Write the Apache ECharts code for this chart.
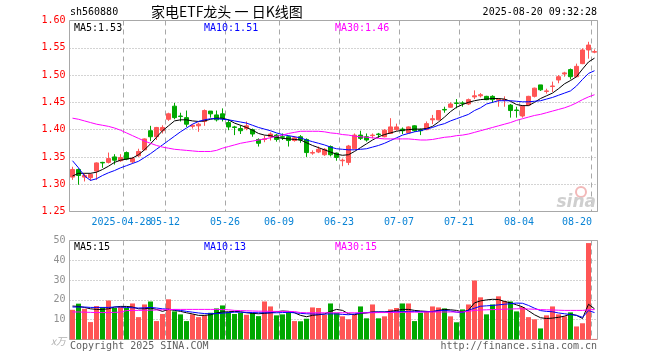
<!DOCTYPE html>
<html><head><meta charset="utf-8">
<script src="https://cdn.jsdelivr.net/npm/echarts@6/dist/echarts.min.js"></script>
<style>html,body{margin:0;padding:0;background:#fff}#c{width:660px;height:360px}</style>
</head><body><div id="c"></div>
<script>
const dates = [
'2025-04-15','2025-04-16','2025-04-17','2025-04-18','2025-04-21','2025-04-22','2025-04-23','2025-04-24','2025-04-25','2025-04-28',
'2025-04-29','2025-04-30','2025-05-06','2025-05-07','2025-05-08','2025-05-09','2025-05-12','2025-05-13','2025-05-14','2025-05-15',
'2025-05-16','2025-05-19','2025-05-20','2025-05-21','2025-05-22','2025-05-23','2025-05-26','2025-05-27','2025-05-28','2025-05-29',
'2025-05-30','2025-06-03','2025-06-04','2025-06-05','2025-06-06','2025-06-09','2025-06-10','2025-06-11','2025-06-12','2025-06-13',
'2025-06-16','2025-06-17','2025-06-18','2025-06-19','2025-06-20','2025-06-23','2025-06-24','2025-06-25','2025-06-26','2025-06-27',
'2025-06-30','2025-07-01','2025-07-02','2025-07-03','2025-07-04','2025-07-07','2025-07-08','2025-07-09','2025-07-10','2025-07-11',
'2025-07-14','2025-07-15','2025-07-16','2025-07-17','2025-07-18','2025-07-21','2025-07-22','2025-07-23','2025-07-24','2025-07-25',
'2025-07-28','2025-07-29','2025-07-30','2025-07-31','2025-08-01','2025-08-04','2025-08-05','2025-08-06','2025-08-07','2025-08-08',
'2025-08-11','2025-08-12','2025-08-13','2025-08-14','2025-08-15','2025-08-18','2025-08-19','2025-08-20'];

const opens = [1.313,1.327,1.313,1.312,1.324,1.340,1.340,1.350,1.343,1.358,
1.341,1.352,1.363,1.398,1.387,1.398,1.419,1.443,1.425,1.422,
1.406,1.407,1.415,1.434,1.427,1.429,1.413,1.405,1.402,1.402,
1.400,1.382,1.382,1.387,1.390,1.387,1.387,1.380,1.387,1.382,
1.357,1.359,1.354,1.369,1.357,1.343,1.340,1.365,1.390,1.387,
1.389,1.392,1.387,1.393,1.400,1.401,1.394,1.407,1.400,1.400,
1.418,1.418,1.437,1.441,1.449,1.449,1.447,1.460,1.462,1.461,
1.461,1.454,1.454,1.445,1.436,1.425,1.445,1.461,1.482,1.470,
1.479,1.491,1.502,1.510,1.497,1.521,1.546,1.542];

const closes = [1.327,1.316,1.316,1.318,1.339,1.339,1.347,1.344,1.349,1.346,
1.347,1.360,1.383,1.387,1.404,1.404,1.429,1.422,1.424,1.410,
1.408,1.410,1.435,1.429,1.418,1.421,1.405,1.404,1.398,1.407,
1.392,1.375,1.383,1.392,1.382,1.386,1.380,1.385,1.381,1.358,
1.358,1.364,1.364,1.354,1.349,1.344,1.370,1.390,1.384,1.381,
1.390,1.391,1.399,1.405,1.405,1.398,1.405,1.398,1.398,1.411,
1.420,1.435,1.436,1.447,1.448,1.448,1.455,1.462,1.464,1.455,
1.455,1.456,1.455,1.435,1.435,1.443,1.461,1.476,1.473,1.471,
1.480,1.497,1.504,1.497,1.516,1.546,1.555,1.543];

const lows = [1.308,1.299,1.305,1.306,1.308,1.330,1.338,1.336,1.341,1.344,
1.338,1.350,1.362,1.379,1.381,1.393,1.416,1.419,1.415,1.405,
1.402,1.396,1.407,1.422,1.415,1.415,1.399,1.390,1.392,1.399,
1.387,1.369,1.377,1.380,1.378,1.381,1.369,1.378,1.376,1.350,
1.354,1.357,1.352,1.351,1.343,1.333,1.335,1.364,1.381,1.378,
1.384,1.385,1.386,1.392,1.398,1.392,1.393,1.396,1.390,1.399,
1.410,1.417,1.431,1.440,1.439,1.442,1.445,1.456,1.459,1.454,
1.449,1.442,1.442,1.422,1.422,1.422,1.444,1.459,1.471,1.466,
1.469,1.485,1.497,1.492,1.496,1.520,1.530,1.540];

const highs = [1.332,1.329,1.320,1.320,1.340,1.341,1.358,1.355,1.355,1.360,
1.350,1.365,1.384,1.407,1.405,1.408,1.431,1.449,1.431,1.435,
1.410,1.413,1.437,1.434,1.435,1.439,1.418,1.407,1.408,1.415,
1.402,1.384,1.389,1.395,1.392,1.393,1.389,1.388,1.390,1.384,
1.362,1.369,1.366,1.371,1.358,1.347,1.372,1.393,1.398,1.393,
1.393,1.394,1.401,1.421,1.411,1.404,1.406,1.408,1.402,1.415,
1.427,1.436,1.442,1.450,1.456,1.452,1.457,1.472,1.467,1.462,
1.463,1.458,1.461,1.447,1.442,1.445,1.462,1.477,1.482,1.475,
1.488,1.500,1.506,1.512,1.521,1.549,1.561,1.547];

const ma5 = [1.315,1.320,1.320,1.320,1.322,1.327,1.333,1.340,1.344,1.346,
1.348,1.354,1.363,1.374,1.386,1.398,1.407,1.416,1.418,1.418,
1.416,1.415,1.416,1.419,1.421,1.421,1.418,1.412,1.408,1.404,
1.399,1.393,1.390,1.389,1.386,1.384,1.383,1.382,1.381,1.376,
1.371,1.367,1.363,1.359,1.355,1.353,1.354,1.360,1.367,1.374,
1.381,1.387,1.391,1.394,1.397,1.399,1.400,1.401,1.401,1.402,
1.406,1.414,1.423,1.433,1.441,1.446,1.450,1.453,1.455,1.456,
1.457,1.457,1.456,1.452,1.446,1.444,1.444,1.450,1.457,1.462,
1.467,1.475,1.484,1.490,1.497,1.511,1.524,1.531];

const ma10 = [1.343,1.330,1.315,1.307,1.310,1.316,1.321,1.325,1.330,1.334,
1.338,1.342,1.349,1.356,1.364,1.372,1.380,1.388,1.396,1.403,
1.410,1.415,1.418,1.420,1.420,1.419,1.418,1.416,1.414,1.412,
1.408,1.404,1.401,1.398,1.394,1.391,1.389,1.387,1.385,1.381,
1.378,1.375,1.372,1.368,1.365,1.364,1.363,1.363,1.364,1.365,
1.368,1.371,1.375,1.380,1.385,1.390,1.393,1.396,1.398,1.401,
1.404,1.408,1.411,1.416,1.420,1.424,1.428,1.435,1.440,1.447,
1.450,1.453,1.453,1.453,1.452,1.451,1.451,1.452,1.453,1.456,
1.459,1.463,1.467,1.471,1.480,1.492,1.503,1.508];

const ma30 = [1.421,1.419,1.416,1.413,1.410,1.408,1.406,1.403,1.399,1.394,
1.389,1.384,1.379,1.375,1.371,1.368,1.366,1.364,1.363,1.362,
1.361,1.360,1.360,1.360,1.362,1.366,1.369,1.372,1.375,1.377,
1.379,1.381,1.383,1.385,1.388,1.390,1.393,1.395,1.397,1.397,
1.397,1.397,1.396,1.394,1.393,1.391,1.390,1.388,1.387,1.386,
1.385,1.384,1.383,1.383,1.383,1.383,1.383,1.382,1.381,1.381,
1.382,1.384,1.386,1.387,1.389,1.390,1.392,1.395,1.398,1.401,
1.404,1.407,1.410,1.413,1.417,1.420,1.423,1.426,1.428,1.431,
1.434,1.437,1.440,1.444,1.449,1.455,1.460,1.464];

const volumes = [15.0,18.1,15.5,8.8,16.9,16.4,19.7,15.9,16.6,15.9,
18.2,11.3,17.7,19.2,9.3,12.9,20.3,14.2,12.7,9.3,
12.7,11.3,12.2,13.5,15.7,17.2,13.9,12.9,13.5,12.5,
13.5,11.8,19.2,16.7,12.2,12.7,13.9,9.3,9.2,10.5,
16.2,15.9,12.5,18.2,13.5,11.7,10.2,12.7,16.7,10.7,
17.7,10.7,11.7,15.2,15.9,18.2,18.2,9.3,13.5,14.2,
16.7,16.2,15.7,11.7,8.7,15.2,17.7,29.8,21.3,12.7,
17.7,21.8,19.4,19.2,14.2,16.4,11.3,10.2,5.6,12.2,
16.7,12.7,11.7,13.7,6.6,8.2,48.7,0.3];

const volMa5 = [16.9,16.7,16.2,15.5,15.2,15.2,15.5,16.4,16.7,16.7,
16.4,15.5,15.5,15.9,15.2,14.2,15.2,14.7,14.2,13.5,
12.9,12.2,12.2,12.5,13.4,13.9,14.0,14.2,14.0,13.5,
13.2,13.0,13.2,13.5,14.0,14.4,14.2,13.5,12.2,11.5,
12.2,12.5,12.9,14.2,15.2,14.7,13.0,12.5,13.2,13.4,
13.9,13.9,13.9,14.2,14.7,15.2,15.2,14.7,14.4,14.2,
14.0,14.7,15.2,15.0,14.7,13.9,14.8,18.5,19.5,20.0,
20.3,20.2,19.2,18.5,17.5,16.5,14.5,12.5,11.0,10.6,
10.8,11.2,11.8,12.8,12.2,10.6,17.8,15.5];

const volMa10 = [16.4,16.4,16.4,16.2,16.2,16.2,16.2,16.4,16.4,16.2,
16.0,15.9,16.0,16.2,15.9,15.5,15.3,15.0,14.7,14.2,
13.8,13.4,13.1,13.0,13.1,13.3,13.6,13.8,13.8,13.7,
13.6,13.5,13.5,13.5,13.5,13.6,13.7,13.5,13.2,13.0,
12.9,12.8,12.8,13.0,12.9,12.7,12.5,12.9,13.4,13.6,
13.8,13.9,13.9,13.9,14.0,14.1,14.2,14.2,14.1,14.0,
14.2,14.5,14.7,14.4,13.8,13.6,14.8,15.8,16.8,17.0,
17.2,17.5,17.8,18.1,18.4,18.3,17.2,15.8,14.6,14.2,
14.0,13.4,13.0,12.6,12.2,11.2,14.6,13.6];

const volMa30 = [13.9,13.9,13.8,13.7,13.6,13.6,13.6,13.7,13.8,14.6,
14.7,14.7,14.8,14.8,14.9,15.0,15.1,15.2,15.2,15.2,
15.2,15.2,15.2,15.2,15.2,15.1,15.0,14.7,14.6,14.5,
14.4,14.3,14.3,14.2,14.2,14.2,14.2,14.1,13.6,13.5,
13.5,13.5,13.5,13.5,13.5,13.5,13.5,13.5,13.5,13.5,
13.5,13.6,13.6,13.6,13.7,13.7,13.8,13.8,13.8,13.9,
13.9,13.9,13.9,13.9,13.9,13.9,14.2,14.7,14.9,15.0,
15.1,15.2,15.3,15.4,15.5,15.5,15.4,15.3,15.1,15.0,
14.9,14.8,14.7,14.7,14.7,14.7,15.0,15.1];

const labelDates = ['2025-04-28','2025-05-12','2025-05-26','2025-06-09','2025-06-23','2025-07-07','2025-07-21','2025-08-04','2025-08-20'];
const legendMain = ['MA5:1.53','MA10:1.51','MA30:1.46'];
const legendVol = ['MA5:15','MA10:13','MA30:15'];
const priceTicks = {min:1.25, max:1.60, step:0.05};
const volTicks = {min:0, max:50, step:10};

const MONO = '"DejaVu Sans Mono", "Liberation Mono", monospace';
const RED = '#ff5555', GREEN = '#00a800';
const GRIDC = '#a8a8a8';
const LBLC = '#0a84d6';
const marks = new Set(labelDates);
const isMark = (i, v) => marks.has(v);

const kData = dates.map((d, i) => [opens[i], closes[i], lows[i], highs[i]]);
const vData = volumes.map((v, i) => ({value: v, itemStyle: {color: closes[i] >= opens[i] ? RED : GREEN}}));

const chart = echarts.init(document.getElementById('c'), null, {renderer: 'canvas'});

const xBase = (gi) => ({
  type: 'category', gridIndex: gi, data: dates, boundaryGap: true, position: 'bottom',
  axisLine: {show: false}, axisTick: {show: false},
  splitLine: {show: true, interval: isMark, lineStyle: {color: GRIDC, type: [5, 4], width: 1}}
});
const richLbl = (pad) => ({padding: [0, pad, 0, 0], color: LBLC, fontFamily: MONO, fontSize: 10});

// main axis: all marked dates except the first (drawn by its own axis so label overlap checks don't drop it)
const x0 = xBase(0);
x0.axisLabel = {
  show: true, interval: (i, v) => marks.has(v) && v !== labelDates[0], hideOverlap: false,
  margin: 6, color: LBLC, fontFamily: MONO, fontSize: 10,
  formatter: (v, i) => (i === dates.length - 1 ? '{e|' : '{n|') + v.slice(5) + '}',
  rich: {n: richLbl(7), e: richLbl(35)}
};
const x1 = xBase(1);
x1.axisLabel = {show: false};
const x2 = {
  type: 'category', gridIndex: 0, data: dates, boundaryGap: true, position: 'bottom',
  axisLine: {show: false}, axisTick: {show: false}, splitLine: {show: false},
  axisLabel: {show: true, interval: (i, v) => v === labelDates[0], margin: 6, color: LBLC, fontFamily: MONO, fontSize: 10,
    formatter: v => '{f|' + v + '}', rich: {f: richLbl(10)}}
};

const lineS = (name, data, color, xi) => ({
  name, type: 'line', data, xAxisIndex: xi, yAxisIndex: xi, symbol: 'none', smooth: false,
  lineStyle: {color, width: 1}, silent: true, z: 5
});

const txt = (x, y, text, fill, font, align) => ({
  type: 'text', x, y, silent: true, z: 100,
  style: {text, fill, font, textAlign: align || 'left', textVerticalAlign: 'middle'}
});

const option = {
  animation: false,
  backgroundColor: '#ffffff',
  grid: [
    {left: 69.5, top: 20.5, width: 528, height: 191, show: true, borderColor: GRIDC, borderWidth: 1},
    {left: 69.5, top: 240.5, width: 528, height: 99, show: true, borderColor: GRIDC, borderWidth: 1}
  ],
  xAxis: [x0, x1, x2],
  yAxis: [
    {type: 'value', gridIndex: 0, min: priceTicks.min, max: priceTicks.max, interval: priceTicks.step,
     axisLine: {show: false}, axisTick: {show: false},
     axisLabel: {color: '#ff0000', fontFamily: MONO, fontSize: 10, margin: 4, formatter: v => v.toFixed(2)},
     splitLine: {show: true, lineStyle: {color: GRIDC, type: [1, 2], width: 1}}},
    {type: 'value', gridIndex: 1, min: volTicks.min, max: volTicks.max, interval: volTicks.step,
     axisLine: {show: false}, axisTick: {show: false},
     axisLabel: {color: '#909090', fontFamily: MONO, fontSize: 10, margin: 4, formatter: v => v === 0 ? '' : String(v)},
     splitLine: {show: true, lineStyle: {color: GRIDC, type: [1, 2], width: 1}}}
  ],
  series: [
    {name: 'K', type: 'candlestick', data: kData, xAxisIndex: 0, yAxisIndex: 0, barWidth: 4,
     itemStyle: {color: RED, color0: GREEN, borderColor: RED, borderColor0: GREEN, borderWidth: 1}, z: 3},
    lineS('MA5', ma5, '#000000', 0),
    lineS('MA10', ma10, '#0000ff', 0),
    lineS('MA30', ma30, '#ff00ff', 0),
    {name: 'VOL', type: 'bar', data: vData, xAxisIndex: 1, yAxisIndex: 1, barWidth: 5, z: 3},
    lineS('VMA5', volMa5, '#000000', 1),
    lineS('VMA10', volMa10, '#0000ff', 1),
    lineS('VMA30', volMa30, '#ff00ff', 1)
  ],
  graphic: [
    txt(70, 12, 'sh560880', '#000', '10px ' + MONO),
    txt(151, 12, '家电ETF龙头 一 日K线图', '#000', '14px "Noto Sans CJK SC"'),
    txt(597, 12, '2025-08-20 09:32:28', '#000', '10px ' + MONO, 'right'),
    txt(74, 28, legendMain[0], '#000000', '10px ' + MONO),
    txt(204, 28, legendMain[1], '#0000ff', '10px ' + MONO),
    txt(335, 28, legendMain[2], '#ff00ff', '10px ' + MONO),
    txt(74, 247, legendVol[0], '#000000', '10px ' + MONO),
    txt(204, 247, legendVol[1], '#0000ff', '10px ' + MONO),
    txt(335, 247, legendVol[2], '#ff00ff', '10px ' + MONO),
    txt(70, 346, 'Copyright 2025 SINA.COM', '#606060', '10px ' + MONO),
    txt(597, 346, 'http://finance.sina.com.cn', '#606060', '10px ' + MONO, 'right'),
    txt(66, 341, 'x万', '#b0b0b0', 'italic 10px "Noto Sans CJK SC"', 'right'),
    {type: 'circle', shape: {cx: 581, cy: 192, r: 5}, style: {fill: 'none', stroke: '#f2b8b8', lineWidth: 2}, silent: true, z: 1},
    txt(596, 203, 'sina', '#cfcfcf', 'italic bold 17px "DejaVu Sans"', 'right')
  ]
};
chart.setOption(option);
</script>
</body></html>
